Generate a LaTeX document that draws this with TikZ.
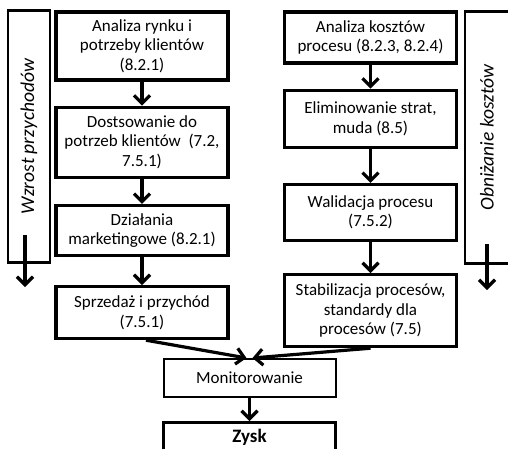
\documentclass[tikz,border=0pt]{standalone}
\usepackage{fontspec}
\setmainfont{Carlito}
\usetikzlibrary{arrows.meta, positioning}

\begin{document}
\begin{tikzpicture}[x=1pt, y=-1pt,
    krok/.style={draw, line width=3.2pt, minimum width=172pt, align=center,
                 inner sep=2pt, font=\fontsize{17}{19.5}\selectfont},
    pas/.style={draw, line width=2.7pt, rotate=90, minimum width=252pt,
                minimum height=42pt, font=\fontsize{19.5}{22}\selectfont\itshape},
    strz/.style={-{Straight Barb[length=8pt, width=16pt]}, line width=3.2pt}]
    \useasboundingbox (0,0) rectangle (508,448);

    % lewa kolumna
    \node[krok, minimum height=68pt] (analiza) at (142,46)
          {Analiza rynku i\\potrzeby klientów\\(8.2.1)};
    \node[krok, minimum height=70pt, below=24pt of analiza] (dostos)
          {Dostsowanie do\\potrzeb klientów~~(7.2,\\7.5.1)};
    \node[krok, minimum height=50pt, below=25pt of dostos] (marketing)
          {Działania\\marketingowe (8.2.1)};
    \node[krok, minimum height=52pt, below=28pt of marketing] (sprzedaz)
          {Sprzedaż i przychód\\(7.5.1)};

    % prawa kolumna
    \node[krok, minimum height=51pt] (koszty) at (370.5,37.5)
          {Analiza kosztów\\procesu (8.2.3, 8.2.4)};
    \node[krok, minimum height=57pt, below=24pt of koszty] (straty)
          {Eliminowanie strat,\\muda (8.5)};
    \node[krok, minimum height=56pt, below=34pt of straty] (walidacja)
          {Walidacja procesu\\(7.5.2)};
    \node[krok, minimum height=72pt, below=31pt of walidacja] (stabil)
          {Stabilizacja procesów,\\standardy dla\\procesów (7.5)};

    % dol
    \node[krok, line width=2pt, minimum height=38pt] (monit) at (249.5,378)
          {Monitorowanie};
    \node[krok, minimum height=30pt, font=\fontsize{19}{22}\selectfont\bfseries,
          below=23pt of monit] (zysk) {Zysk};

    % paski boczne
    \node[pas] (wzrost) at (29,136.5) {Wzrost przychodów};
    \node[pas, minimum height=44pt] (obniz) at (487,137.5) {Obniżanie kosztów};
    \coordinate (wzA) at (25,235);
    \coordinate (wzB) at (25,287);
    \coordinate (obA) at (487,244);
    \coordinate (obB) at (487,290);

    \draw[strz] (analiza) -- (dostos);
    \draw[strz] (dostos) -- (marketing);
    \draw[strz] (marketing) -- (sprzedaz);
    \draw[strz] (koszty) -- (straty);
    \draw[strz] (straty) -- (walidacja);
    \draw[strz] (walidacja) -- (stabil);
    \draw[strz] ([xshift=4pt]sprzedaz.south) -- ([xshift=-3pt]monit.north);
    \draw[strz] (stabil.south) -- ([xshift=3pt]monit.north);
    \draw[strz] (monit) -- (zysk);
    \draw[strz] (wzA) -- (wzB);
    \draw[strz] (obA) -- (obB);
\end{tikzpicture}
\end{document}
